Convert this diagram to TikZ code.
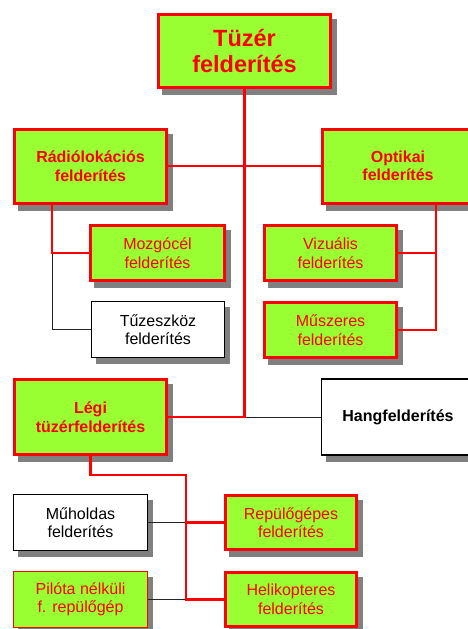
\documentclass[tikz,border=0pt]{standalone}
\usepackage{fontspec}
\setmainfont{Liberation Sans}
\usetikzlibrary{backgrounds}
\definecolor{boxgreen}{HTML}{99FF33}
\definecolor{boxred}{HTML}{FF0000}
\definecolor{shadowgray}{HTML}{808080}
\tikzset{
  basebox/.style={rectangle, align=center, inner sep=2pt, font=\fontsize{16}{18.5}\selectfont},
  gbox/.style={basebox, fill=boxgreen, draw=boxred, line width=3pt, text=boxred},
  gboldbox/.style={gbox, font=\fontsize{16}{18.5}\selectfont\bfseries},
  gthinbox/.style={basebox, fill=boxgreen, draw=boxred, line width=1.2pt, text=boxred},
  wbox/.style={basebox, fill=white, draw=black, line width=1.5pt, text=black},
  redline/.style={draw=boxred, line width=2.6pt},
  blackline/.style={draw=black!85, line width=1pt},
  shadowfill/.style={fill=shadowgray},
}
\begin{document}
\begin{tikzpicture}[x=1pt,y=1pt]
\useasboundingbox (0,0) rectangle (468,-629);
% nodes
\node[gbox, font=\fontsize{23.5}{26}\selectfont\bfseries, minimum width=172pt, minimum height=73pt] (t) at (244.5,-51) {Tüzér\\felderítés};
\node[gboldbox, minimum width=152pt, minimum height=74pt] (r) at (90.5,-166) {Rádiólokációs\\felderítés};
\node[gboldbox, minimum width=151pt, minimum height=74pt] (o) at (398,-166) {Optikai\\felderítés};
\node[gbox, minimum width=134pt, minimum height=55pt] (m) at (157.5,-253) {Mozgócél\\felderítés};
\node[wbox, minimum width=133pt, minimum height=56pt] (tz) at (158,-329.5) {Tűzeszköz\\felderítés};
\node[gbox, minimum width=132pt, minimum height=55pt] (v) at (330.5,-253) {Vizuális\\felderítés};
\node[gbox, minimum width=132pt, minimum height=55pt] (mu) at (330.5,-330) {Műszeres\\felderítés};
\node[gboldbox, minimum width=152pt, minimum height=75pt] (l) at (90.5,-417) {Légi\\tüzérfelderítés};
\node[wbox, font=\fontsize{16}{18.5}\selectfont\bfseries, minimum width=153pt, minimum height=76pt] (h) at (398,-417) {Hangfelderítés};
\node[wbox, minimum width=134pt, minimum height=56pt] (mh) at (80.5,-522.5) {Műholdas\\felderítés};
\node[gthinbox, minimum width=134pt, minimum height=56pt] (p) at (80.5,-599.5) {Pilóta nélküli\\f. repülőgép};
\node[gbox, minimum width=131pt, minimum height=54pt] (rep) at (291,-522.5) {Repülőgépes\\felderítés};
\node[gbox, minimum width=131pt, minimum height=54pt] (he) at (291,-599.5) {Helikopteres\\felderítés};
% shadows
\begin{pgfonlayer}{background}
\foreach \n in {t,r,o,m,tz,v,mu,l,h,mh,p,rep,he}{
  \fill[shadowfill] ([shift={(5pt,-6pt)}]\n.south west) rectangle ([shift={(5pt,-6pt)}]\n.north east);
}
\end{pgfonlayer}
% junction coordinates
\coordinate (rj) at (52,0);
\coordinate (oj) at (436,0);
\coordinate (lj) at (186,-475);
% black connectors
\draw[blackline] (m.west -| rj) |- (tz.west);
\draw[blackline] (t.south |- h.west) -- (h.west);
\draw[blackline] (mh.east) -- (mh.east -| lj);
\draw[blackline] (p.east) -- (p.east -| lj);
% red connectors
\draw[redline] (t.south) |- (l.east);
\draw[redline] (r.east) -- (o.west);
\draw[redline] (r.south -| rj) |- (m.west);
\draw[redline] (o.south -| oj) |- (mu.east);
\draw[redline] (v.east) -- (v.east -| oj);
\draw[redline] (l.south) |- (lj) |- (he.west);
\draw[redline] (rep.west) -- (rep.west -| lj);
\end{tikzpicture}
\end{document}
